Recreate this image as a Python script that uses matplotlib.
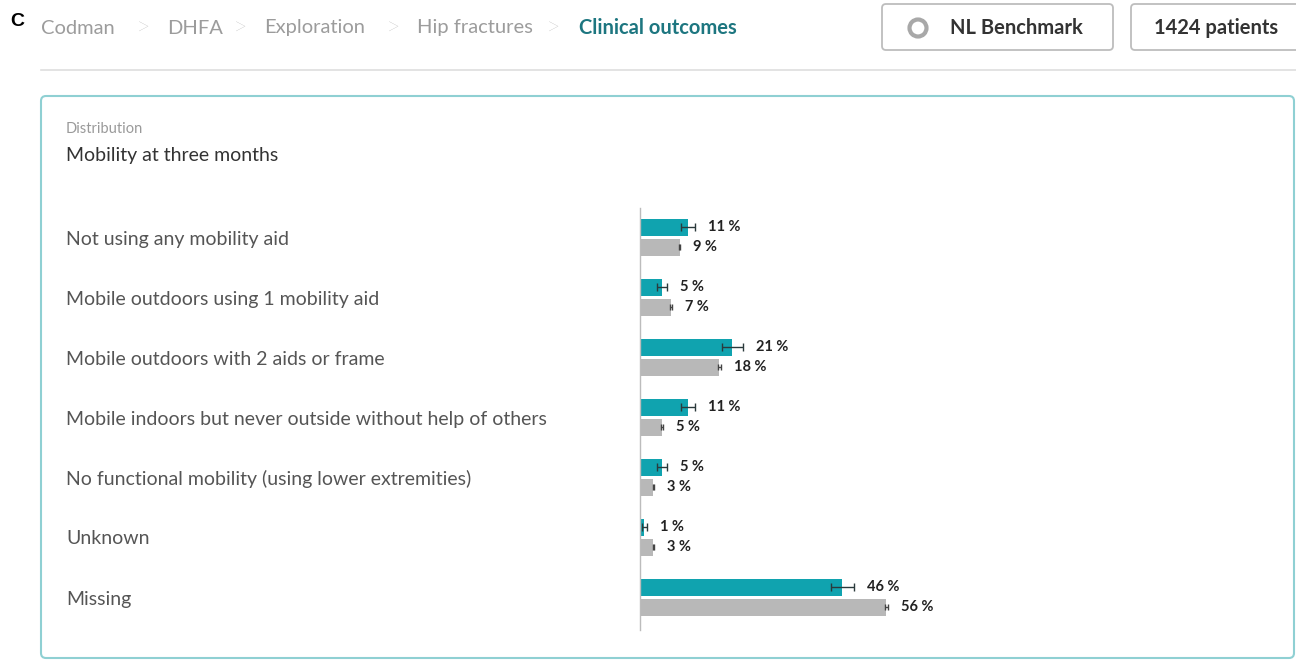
import numpy as np
import matplotlib
matplotlib.use("Agg")
import matplotlib.pyplot as plt
from matplotlib.patches import FancyBboxPatch, Circle
from matplotlib.transforms import IdentityTransform, blended_transform_factory
from matplotlib.lines import Line2D

# ---------- data ----------
categories = [
    "Not using any mobility aid",
    "Mobile outdoors using 1 mobility aid",
    "Mobile outdoors with 2 aids or frame",
    "Mobile indoors but never outside without help of others",
    "No functional mobility (using lower extremities)",
    "Unknown",
    "Missing",
]
hospital_pct = [11, 5, 21, 11, 5, 1, 46]
hospital_err = [1.6, 1.1, 2.3, 1.6, 1.1, 0.5, 2.7]
benchmark_pct = [9, 7, 18, 5, 3, 3, 56]
benchmark_err = [0.2, 0.2, 0.3, 0.2, 0.1, 0.1, 0.3]

breadcrumb = ["Codman", "DHFA", "Exploration", "Hip fractures"]
breadcrumb_x = [41, 167, 264, 417]
separator_x = [143, 240, 393, 553]
current_page = "Clinical outcomes"

TEAL = "#10a3af"
GREY = "#b8b8b8"
W, H = 1296, 661
FONT = "Lato"

fig = plt.figure(figsize=(W / 100, H / 100), dpi=100)
fig.patch.set_facecolor("white")
ident = IdentityTransform()


def fy(py):
    return 1 - py / H


def box(x0, y0, x1, y1, ec, lw=1.2, r=4):
    p = FancyBboxPatch((x0, H - y1), x1 - x0, y1 - y0,
                       boxstyle=f"round,pad=0,rounding_size={r}",
                       transform=ident, fc="white", ec=ec, lw=lw, zorder=-5)
    fig.add_artist(p)


# ---------- header ----------
fig.text(10 / W, fy(21), "C", fontsize=14, fontweight="bold",
         family="Liberation Sans", va="center", ha="left", color="black")
for name, x in zip(breadcrumb, breadcrumb_x):
    fig.text(x / W, fy(28), name, fontsize=14.5, family=FONT, color="#9c9c9c",
             va="center", ha="left")
for x in separator_x:
    fig.text(x / W, fy(28), ">", fontsize=18, family=FONT, fontweight="light",
             color="#a6a6a6", va="center", ha="center")
fig.text(579 / W, fy(28), current_page, fontsize=14.5, family=FONT,
         fontweight="bold", color="#1d7680", va="center", ha="left")

box(882, 4, 1113, 50, "#bdbdbd", lw=1.3)
box(1131, 4, 1310, 50, "#bdbdbd", lw=1.3)
fig.add_artist(Circle((918, H - 28), 8.5, transform=ident, fc="white",
                      ec="#a8a8a8", lw=3))
fig.text(950 / W, fy(28), "NL Benchmark", fontsize=14.5, family=FONT,
         fontweight="bold", color="#333333", va="center", ha="left")
fig.text(1154 / W, fy(28), "1424 patients", fontsize=14.5, family=FONT,
         fontweight="bold", color="#333333", va="center", ha="left")

fig.add_artist(Line2D([41, W], [H - 70, H - 70], transform=ident,
                      color="#dedede", lw=1.2, zorder=-4))

# ---------- panel ----------
box(41, 96, 1294, 658, "#8fd0d3", lw=1.5, r=5)
fig.text(66 / W, fy(129), "Distribution", fontsize=10.5, family=FONT,
         color="#9a9a9a", va="center", ha="left")
fig.text(66 / W, fy(156), "Mobility at three months", fontsize=14,
         family=FONT, color="#333333", va="center", ha="left")

# ---------- chart ----------
ax_top, ax_bot = 208, 630
ax = fig.add_axes([640 / W, fy(ax_bot), (1270 - 640) / W, (ax_bot - ax_top) / H])
ax.set_zorder(5)
ax.set_facecolor("none")
y = np.arange(len(categories))
off = 10 / 60
bh = 17 / 60
ax.barh(y - off, hospital_pct, height=bh, color=TEAL)
ax.barh(y + off, benchmark_pct, height=bh, color=GREY)
ax.errorbar(hospital_pct, y - off, xerr=hospital_err, fmt="none",
            ecolor="#2b3a3c", elinewidth=1, capsize=3)
ax.errorbar(benchmark_pct, y + off, xerr=benchmark_err, fmt="none",
            ecolor="#444444", elinewidth=1, capsize=2.5)

for yi, v, e in zip(y - off, hospital_pct, hospital_err):
    ax.annotate(f"{v} %", (v + e, yi), xytext=(13, 0), textcoords="offset pixels",
                fontsize=10.5, fontweight="bold", family=FONT, color="#222222",
                va="center", ha="left")
for yi, v, e in zip(y + off, benchmark_pct, benchmark_err):
    ax.annotate(f"{v} %", (v + e, yi), xytext=(13, 0), textcoords="offset pixels",
                fontsize=10.5, fontweight="bold", family=FONT, color="#222222",
                va="center", ha="left")

ax.set_xlim(0, (1270 - 640) / 4.4)
ax.set_ylim(len(categories) - 1 + 33 / 60, -29 / 60)
for s in ["top", "right", "bottom"]:
    ax.spines[s].set_visible(False)
ax.spines["left"].set_color("#bcbcbc")
ax.spines["left"].set_linewidth(1)
ax.set_xticks([])
ax.set_yticks([])

lab_tr = blended_transform_factory(fig.transFigure, ax.transData)
for yi, cat in zip(y, categories):
    ax.text(66 / W, yi + 2 / 60, cat, transform=lab_tr, fontsize=14,
            family=FONT, color="#555555", va="center", ha="left")

fig.savefig("out.png", dpi=100, facecolor="white")
